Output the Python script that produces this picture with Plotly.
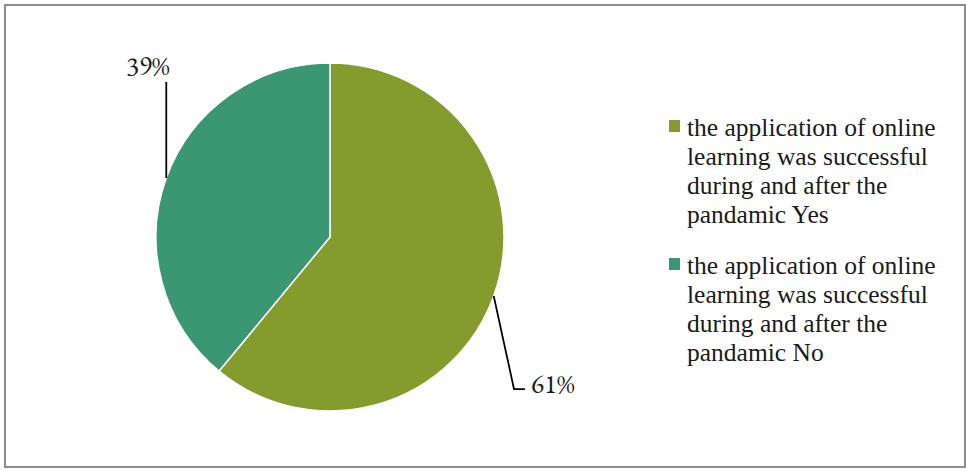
import math
import textwrap
import plotly.graph_objects as go

W, H = 967, 471

labels = [
    "the application of online learning was successful during and after the pandamic Yes",
    "the application of online learning was successful during and after the pandamic No",
]
values = [61, 39]
colors = ["#849B2E", "#3B9672"]

FONT = "Garamond, 'EB Garamond', 'Liberation Serif', serif"
LEGEND_FONT = "'Liberation Serif', 'Times New Roman', serif"
TEXT = "#1a1a1a"

# pie geometry in pixels (domain -> centre and radius)
cx, cy, r = 330, 237, 174


def px(x):
    return x / W


def py(y):
    return (H - y) / H


fig = go.Figure(
    go.Pie(
        labels=labels,
        values=values,
        sort=False,
        direction="clockwise",
        rotation=0,
        marker=dict(colors=colors, line=dict(color="white", width=1.5)),
        textinfo="none",
        hoverinfo="label+percent",
        showlegend=False,
        domain=dict(x=[(cx - r) / W, (cx + r) / W], y=[(H - cy - r) / H, (H - cy + r) / H]),
    )
)

total = sum(values)
shapes = [
    dict(type="rect", xref="paper", yref="paper",
         x0=px(5), x1=px(965), y0=py(5), y1=py(467),
         line=dict(color="#8C8C8C", width=2), fillcolor="rgba(0,0,0,0)", layer="below"),
]
annotations = []

# leader lines start at the middle of each slice's outer edge
cum = 0
mids = []
for v in values:
    mid = (cum + v / 2) / total * 2 * math.pi
    mids.append((cx + r * math.sin(mid), cy - r * math.cos(mid)))
    cum += v

pct = [f"{round(v / total * 100)}%" for v in values]
label_font = dict(family=FONT, size=27, color=TEXT)

# Yes slice: diagonal down, then a short horizontal hook
x0, y0 = mids[0]
shapes.append(dict(type="path", xref="paper", yref="paper",
                   path=f"M {px(x0)} {py(y0)} L {px(514)} {py(389)} L {px(525)} {py(389)}",
                   line=dict(color="black", width=1.75)))
annotations.append(dict(x=px(529), y=py(383), xref="paper", yref="paper", text=pct[0],
                        showarrow=False, xanchor="left", yanchor="middle", font=label_font))

# No slice: vertical line up to the label
x1, y1 = mids[1]
shapes.append(dict(type="line", xref="paper", yref="paper",
                   x0=px(x1), y0=py(y1), x1=px(x1), y1=py(82),
                   line=dict(color="black", width=1.75)))
annotations.append(dict(x=px(148), y=py(66), xref="paper", yref="paper", text=pct[1],
                        showarrow=False, xanchor="center", yanchor="middle", font=label_font))

# legend: coloured square + wrapped text, tight line spacing
leg_x, leg_y0, item_gap, line_h = 669, 126, 138, 29
for i, (lab, col) in enumerate(zip(labels, colors)):
    yc = leg_y0 + i * item_gap
    shapes.append(dict(type="rect", xref="paper", yref="paper",
                       x0=px(leg_x), x1=px(leg_x + 11), y0=py(yc - 6), y1=py(yc + 6),
                       line=dict(width=0), fillcolor=col))
    for j, line in enumerate(textwrap.wrap(lab, 25)):
        annotations.append(dict(x=px(leg_x + 17), y=py(yc + 1 + j * line_h), xref="paper", yref="paper",
                                text=line, showarrow=False, xanchor="left", yanchor="middle",
                                borderpad=0,
                                font=dict(family=LEGEND_FONT, size=25.5, color=TEXT)))

fig.update_layout(
    width=W, height=H,
    margin=dict(l=0, r=0, t=0, b=0),
    paper_bgcolor="white",
    plot_bgcolor="white",
    font=dict(family=FONT, size=21, color=TEXT),
    showlegend=False,
    shapes=shapes,
    annotations=annotations,
)

fig.write_html("out.html")
